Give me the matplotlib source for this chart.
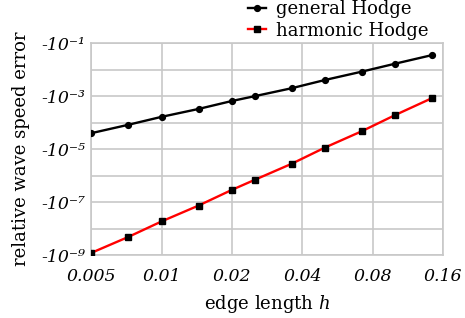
import matplotlib
matplotlib.use("Agg")
import matplotlib.pyplot as plt
from matplotlib.ticker import FixedLocator, NullFormatter
from matplotlib.transforms import ScaledTranslation

SERIF = ["DejaVu Serif"]
plt.rcParams["font.family"] = SERIF
plt.rcParams["font.serif"] = SERIF
plt.rcParams["mathtext.fontset"] = "custom"
plt.rcParams["mathtext.rm"] = "DejaVu Serif"
plt.rcParams["mathtext.it"] = "DejaVu Serif:italic"

# edge lengths h
h_general  = [0.005, 0.0072, 0.01, 0.0144, 0.02, 0.025, 0.036, 0.05, 0.072, 0.1, 0.144]
h_harmonic = [0.005, 0.0072, 0.01, 0.0144, 0.02, 0.025, 0.036, 0.05, 0.072, 0.1, 0.144]

# |relative wave speed error|
err_general  = [4.0e-5, 8.3e-5, 1.66e-4, 3.3e-4, 6.6e-4, 1.0e-3, 2.0e-3, 4.1e-3, 8.5e-3, 1.7e-2, 3.6e-2]
err_harmonic = [1.2e-9, 4.8e-9, 1.86e-8, 7.4e-8, 2.9e-7, 6.9e-7, 2.8e-6, 1.15e-5, 4.8e-5, 1.96e-4, 8.6e-4]

x_ticks  = [0.005, 0.01, 0.02, 0.04, 0.08, 0.16]
x_labels = ["0.005", "0.01", "0.02", "0.04", "0.08", "0.16"]
y_ticks  = [1e-9, 1e-7, 1e-5, 1e-3, 1e-1]
y_labels = ["-10\u207b\u2079", "-10\u207b\u2077", "-10\u207b\u2075",
            "-10\u207b\u00b3", "-10\u207b\u00b9"]
y_minor  = [1e-8, 1e-6, 1e-4, 1e-2]

FS_TICK = 12.5
FS_LAB = 13
FS_LEG = 13
GRID = "#c8c8c8"

fig = plt.figure(figsize=(4.65, 3.18), dpi=100)
ax = fig.add_axes([0.196, 0.198, 0.757, 0.666])

ax.plot(h_general, err_general, color="black", lw=1.7, marker="o", ms=4.2,
        mfc="black", mec="black", label="general Hodge", zorder=3)
ax.plot(h_harmonic, err_harmonic, color="red", lw=1.7, marker="s", ms=4.6,
        mfc="black", mec="black", label="harmonic Hodge", zorder=3)

ax.set_xscale("log")
ax.set_yscale("log")
ax.set_xlim(0.005, 0.16)
ax.set_ylim(1e-9, 1e-1)

ax.xaxis.set_major_locator(FixedLocator(x_ticks))
ax.set_xticklabels(x_labels, fontstyle="italic", fontsize=FS_TICK, family=SERIF)
ax.xaxis.set_minor_locator(FixedLocator([]))
ax.yaxis.set_major_locator(FixedLocator(y_ticks))
ax.set_yticklabels(y_labels, fontstyle="italic", fontsize=FS_TICK, family=SERIF)
ax.yaxis.set_minor_locator(FixedLocator(y_minor))
ax.yaxis.set_minor_formatter(NullFormatter())

# reference labels sit a little below their grid line
shift = ScaledTranslation(0, -3 / 72, fig.dpi_scale_trans)
for lab in ax.get_yticklabels():
    lab.set_transform(lab.get_transform() + shift)

ax.tick_params(which="both", length=0)
ax.tick_params(axis="x", pad=9)
ax.tick_params(axis="y", pad=4)
ax.grid(True, which="both", color=GRID, lw=1.2)
ax.set_axisbelow(True)
for s in ax.spines.values():
    s.set_color(GRID)
    s.set_linewidth(1.2)

ax.set_xlabel(r"edge length $\mathit{h}$", fontsize=FS_LAB, family=SERIF)
ax.set_ylabel("relative wave speed error", fontsize=FS_LAB, family=SERIF, va="center")
ax.xaxis.set_label_coords(0.5, -0.178)
ax.yaxis.set_label_coords(-0.199, 0.5)

fig.legend(loc="upper left", bbox_to_anchor=(0.533, 1.0), frameon=False,
           prop={"family": SERIF, "size": FS_LEG},
           handlelength=1.0, handletextpad=0.55, labelspacing=0.2,
           borderaxespad=0, borderpad=0)

fig.savefig("out.png", dpi=100)
